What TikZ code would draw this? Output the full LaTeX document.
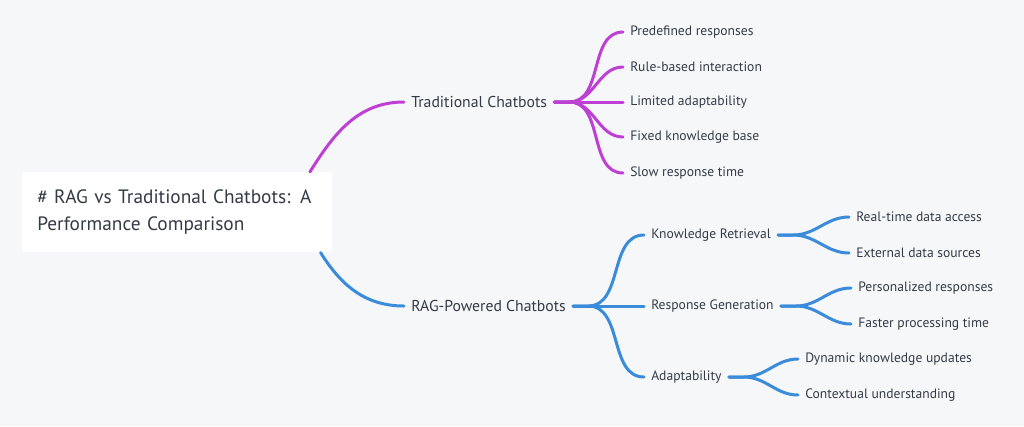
\documentclass[tikz,border=0pt]{standalone}
\usepackage{fontspec}
\setmainfont{PT Sans}
\definecolor{bgcol}{HTML}{F6F7F9}
\definecolor{inkcol}{HTML}{343B47}
\definecolor{tradcol}{HTML}{BE3FD3}
\definecolor{ragcol}{HTML}{3A8BDA}
\begin{document}
\begin{tikzpicture}[x=0.75pt,y=-0.75pt,
		topic/.style={anchor=west,inner xsep=5.25pt,inner ysep=0pt,text=inkcol,font=\fontsize{10.2}{12}\selectfont},
		maintopic/.style={topic,font=\fontsize{11.8}{14}\selectfont},
		tradline/.style={draw=tradcol,line width=2.25pt,line cap=round},
		ragline/.style={draw=ragcol,line width=2.25pt,line cap=round}]
	\useasboundingbox[fill=bgcol] (0,0) rectangle (1024,426);
	% root
	\node [fill=white,anchor=north west,minimum width=232.5pt,minimum height=60pt,inner xsep=11.25pt,
		text width=210pt,align=left,text=inkcol,font=\fontsize{14.5}{20}\selectfont] (root) at (22,172)
		{\# RAG vs Traditional Chatbots: A\\Performance Comparison};
	% traditional branch
	\node [maintopic] (trad) at (404,102) {Traditional Chatbots};
	\node [topic] (t1) at (623,32) {Predefined responses};
	\node [topic] (t2) at (623,67) {Rule-based interaction};
	\node [topic] (t3) at (623,102) {Limited adaptability};
	\node [topic] (t4) at (623,137) {Fixed knowledge base};
	\node [topic] (t5) at (623,173) {Slow response time};
	% rag branch
	\node [maintopic] (rag) at (404,306) {RAG-Powered Chatbots};
	\node [topic] (kr) at (644,235) {Knowledge Retrieval};
	\node [topic] (rg) at (644,306) {Response Generation};
	\node [topic] (ad) at (644,377) {Adaptability};
	\node [topic] (kr1) at (849,217) {Real-time data access};
	\node [topic] (kr2) at (849,253) {External data sources};
	\node [topic] (rg1) at (851,288) {Personalized responses};
	\node [topic] (rg2) at (851,324) {Faster processing time};
	\node [topic] (ad1) at (798,359) {Dynamic knowledge updates};
	\node [topic] (ad2) at (798,395) {Contextual understanding};

	\draw [tradline] ([xshift=-17pt]root.north east) to[out=58,in=180] (trad.west);
	\draw [ragline] ([xshift=-9pt]root.south east) to[out=-58,in=180] (rag.west);
	\foreach \c in {t1,t2,t3,t4,t5}
		\draw [tradline] (trad.east) -- ++(15,0) to[out=0,in=180] (\c.west);
	\foreach \c in {kr,rg,ad}
		\draw [ragline] (rag.east) -- ++(15,0) to[out=0,in=180] (\c.west);
	\foreach \p/\c in {kr/kr1,kr/kr2,rg/rg1,rg/rg2,ad/ad1,ad/ad2}
		\draw [ragline] (\p.east) -- ++(15,0) to[out=0,in=180] (\c.west);
\end{tikzpicture}
\end{document}
